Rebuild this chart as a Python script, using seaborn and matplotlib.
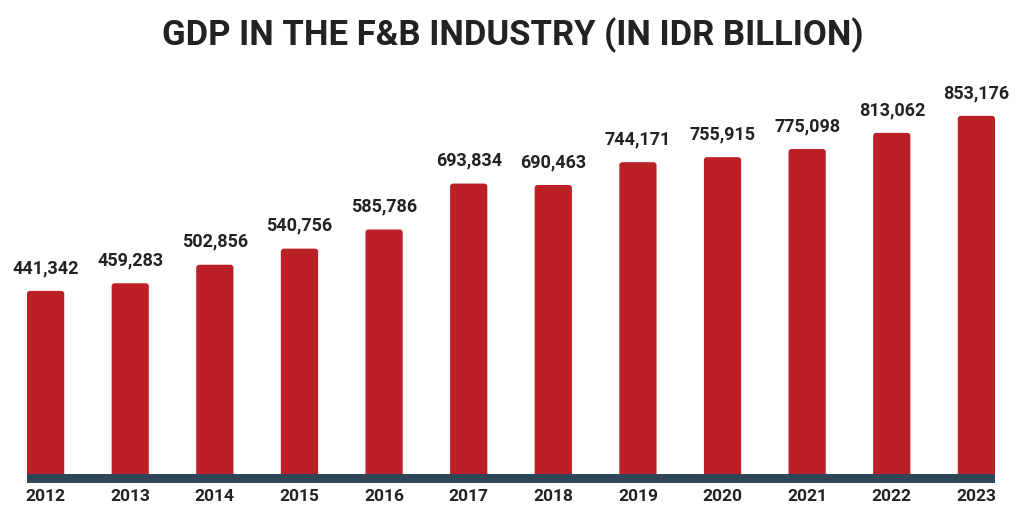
import matplotlib
matplotlib.use("Agg")
import matplotlib.pyplot as plt
from matplotlib.patches import FancyBboxPatch
import seaborn as sns
import pandas as pd

years = ["2012", "2013", "2014", "2015", "2016", "2017", "2018", "2019", "2020", "2021", "2022", "2023"]
gdp = [441342, 459283, 502856, 540756, 585786, 693834, 690463, 744171, 755915, 775098, 813062, 853176]
title = "GDP IN THE F&B INDUSTRY (IN IDR BILLION)"

sns.set_theme(style="white")
plt.rcParams['font.family'] = ['Roboto', 'DejaVu Sans']

W, H = 1026, 523
fig = plt.figure(figsize=(W / 100, H / 100), dpi=100)
left_px, right_px, top_px, bottom_px = 27, 995, 70, 483
ax = fig.add_axes([left_px / W, 1 - bottom_px / H, (right_px - left_px) / W, (bottom_px - top_px) / H])

df = pd.DataFrame({"year": years, "gdp": gdp})
sns.barplot(data=df, x="year", y="gdp", color="#BA2025", saturation=1, width=0.44, ax=ax, zorder=2)

band = 10600
ymax = 961000
ax.set_ylim(-band, ymax)
xlo, xhi = -0.22, len(years) - 1 + 0.22
ax.set_xlim(xlo, xhi)

# rounded top corners
ax_w_px = right_px - left_px
ax_h_px = bottom_px - top_px
px_x = (xhi - xlo) / ax_w_px
px_y = (ymax + band) / ax_h_px
r_px = 3.0
for p in list(ax.patches):
    x, y = p.get_x(), p.get_y()
    w, h = p.get_width(), p.get_height()
    fc = p.get_facecolor()
    p.remove()
    fb = FancyBboxPatch((x, y), w, h,
                        boxstyle=f"round,pad=0,rounding_size={r_px * px_x}",
                        mutation_aspect=px_y / px_x, facecolor=fc, edgecolor="none", zorder=2)
    ax.add_patch(fb)

ax.axhspan(-band, band, color="#2F4659", zorder=3, lw=0)

for i, v in enumerate(gdp):
    ax.annotate(f"{v:,}", (i, v), xytext=(0, 10), textcoords="offset points",
                ha="center", va="bottom", fontsize=13, fontweight="bold", color="#222222")

ax.set_xlabel("")
ax.set_ylabel("")
ax.set_yticks([])
ax.tick_params(axis="x", length=0, pad=4, labelsize=12.5, labelcolor="#222222")
for lab in ax.get_xticklabels():
    lab.set_fontweight("bold")
for s in ax.spines.values():
    s.set_visible(False)

fig.text(0.5, 1 - 35 / H, title, ha="center", va="center", fontsize=24.9, fontweight="bold", color="#222222")

fig.savefig("out.png", dpi=100, facecolor="white")
